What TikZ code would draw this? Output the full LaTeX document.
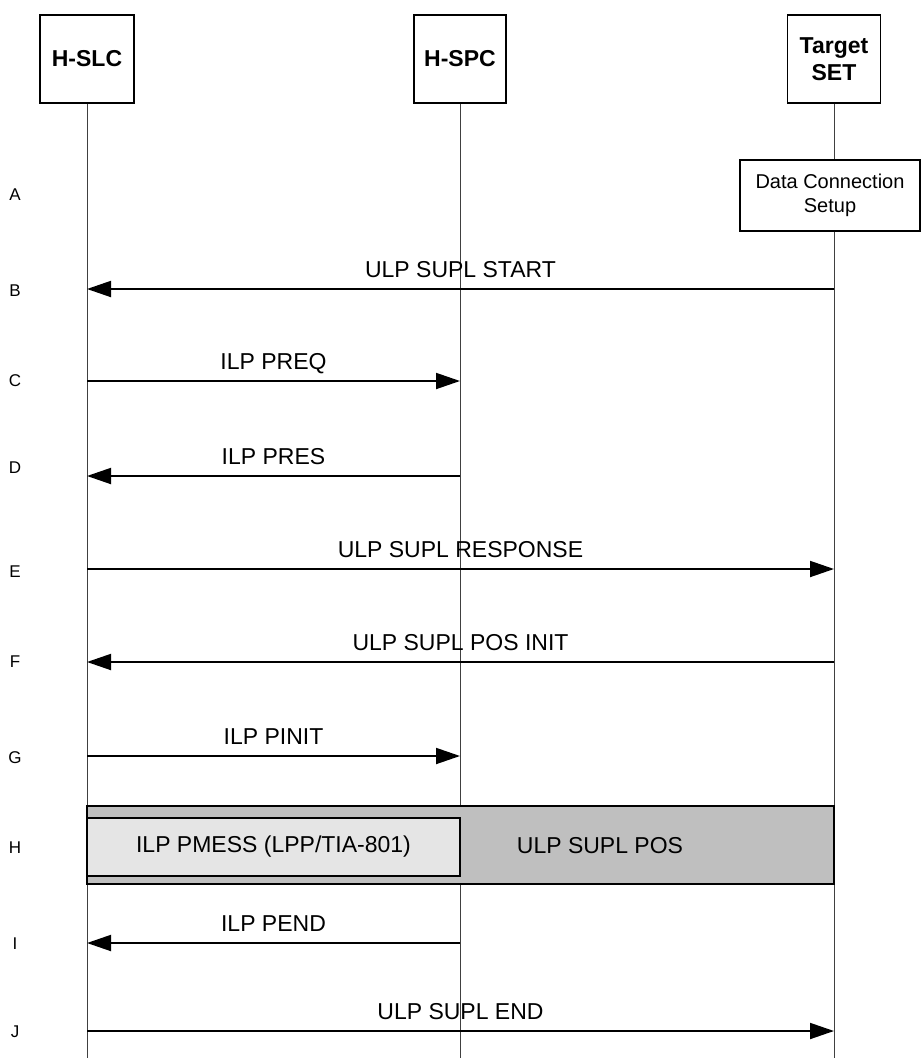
\documentclass[tikz,border=0pt]{standalone}
\usepackage{fontspec}
\setmainfont{Liberation Sans}
\usetikzlibrary{arrows.meta}
\begin{document}
\begin{tikzpicture}[x=1pt,y=-1pt,
  actor/.style={draw,line width=1.3pt,minimum height=88pt,inner sep=0pt,align=center,font=\fontsize{23}{27}\selectfont\bfseries},
  life/.style={line width=0.8pt,draw=black!75},
  msg/.style={line width=1.9pt,-{Triangle[length=24pt,width=16pt]}},
  lbl/.style={anchor=base,inner sep=0pt,font=\fontsize{23}{25}\selectfont},
  row/.style={anchor=center,inner sep=0pt,font=\fontsize{17}{19}\selectfont},
  note/.style={draw,line width=1.3pt,inner sep=0pt,align=center}]
\useasboundingbox (0,0) rectangle (921,1058);
% actors
\node[actor,minimum width=94pt] (slc) at (87,59) {H-SLC};
\node[actor,minimum width=92pt] (spc) at (460,59) {H-SPC};
\node[actor,minimum width=93pt] (set) at (834,59) {Target\\SET};
\coordinate (slcEnd) at (87,1058);
\coordinate (spcEnd) at (460,1058);
\coordinate (setEnd) at (834,1058);
\draw[life] (slc.south) -- (slcEnd);
\draw[life] (spc.south) -- (spcEnd);
\draw[life] (set.south) -- (setEnd);
% A
\node[note,fill=white,minimum width=180pt,minimum height=71pt,font=\fontsize{20}{24}\selectfont] (dcs) at (830,195.5) {Data Connection\\Setup};
% endpoints
\foreach \n/\y in {B/289,C/381,D/476,E/569,F/662,G/756,I/943,J/1031}{
  \coordinate (L\n) at (87,\y);
  \coordinate (M\n) at (460,\y);
  \coordinate (R\n) at (834,\y);
}
\draw[msg] (RB) -- (LB) node[lbl,pos=0.5,yshift=12pt] (tB) {ULP SUPL START};
\draw[msg] (LC) -- (MC) node[lbl,pos=0.5,yshift=12pt] (tC) {ILP PREQ};
\draw[msg] (MD) -- (LD) node[lbl,pos=0.5,yshift=12pt] (tD) {ILP PRES};
\draw[msg] (LE) -- (RE) node[lbl,pos=0.5,yshift=12pt] (tE) {ULP SUPL RESPONSE};
\draw[msg] (RF) -- (LF) node[lbl,pos=0.5,yshift=12pt] (tF) {ULP SUPL POS INIT};
\draw[msg] (LG) -- (MG) node[lbl,pos=0.5,yshift=12pt] (tG) {ILP PINIT};
\draw[msg] (MI) -- (LI) node[lbl,pos=0.5,yshift=12pt] (tI) {ILP PEND};
\draw[msg] (LJ) -- (RJ) node[lbl,pos=0.5,yshift=12pt] (tJ) {ULP SUPL END};
% H
\node[note,fill=black!25,minimum width=747pt,minimum height=78pt] (pos) at (460.5,845) {};
\node[note,fill=black!10,minimum width=373pt,minimum height=58pt,font=\fontsize{23}{25}\selectfont] (pmess) at (273.5,847) {ILP PMESS (LPP/TIA-801)};
\node[inner sep=0pt,font=\fontsize{23}{25}\selectfont] (supos) at (600,846) {ULP SUPL POS};
% rows
\foreach \l/\y in {A/195,B/291,C/381,D/468,E/572,F/662,G/758,H/848,I/944,J/1032}{
  \node[row] (row\l) at (15,\y) {\l};
}
\end{tikzpicture}
\end{document}
